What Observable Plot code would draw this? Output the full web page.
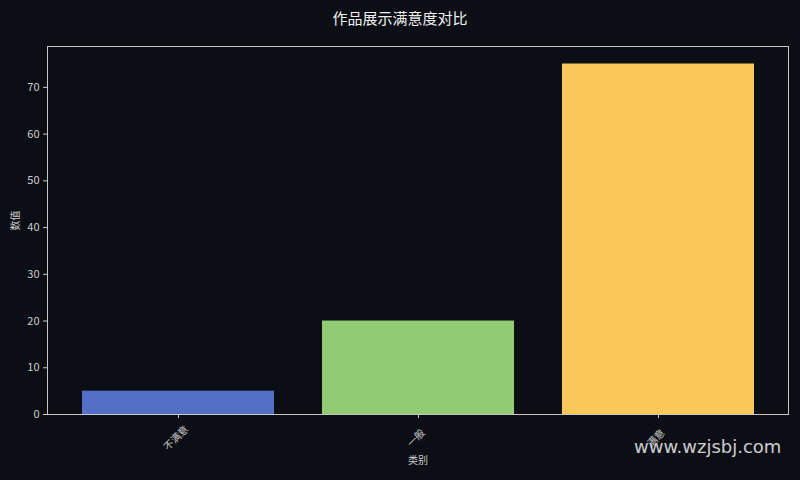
<!DOCTYPE html>
<html><head><meta charset="utf-8">
<script src="https://cdn.jsdelivr.net/npm/d3@7"></script>
<script src="https://cdn.jsdelivr.net/npm/@observablehq/plot@0.6"></script>
<style>
html,body{margin:0;padding:0;background:#0b0e14;}
#wrap{position:relative;width:800px;height:480px;background:#0b0e14;font-family:"Noto Sans CJK SC","DejaVu Sans",sans-serif;}
#title{position:absolute;top:7px;left:0;width:800px;text-align:center;color:#f0f0f0;font-size:15px;}
#wm{position:absolute;left:634px;top:436px;color:#e0e0e0;font-size:18px;font-family:"DejaVu Sans",sans-serif;opacity:0.9;}
#chart{position:absolute;top:0;left:0;}
</style></head>
<body><div id="wrap"><div id="title">作品展示满意度对比</div><div id="chart"></div><div id="wm">www.wzjsbj.com</div></div>
<script>
const categories = ["不满意", "一般", "满意"];
const values = [5, 20, 75];
const colors = ["#5470c6", "#91cc75", "#fac858"];
const yTicks = [0, 10, 20, 30, 40, 50, 60, 70];

const data = categories.map((c, i) => ({category: c, value: values[i], color: colors[i]}));

const chart = Plot.plot({
  width: 800,
  height: 480,
  marginTop: 46,
  marginBottom: 66,
  marginLeft: 47,
  marginRight: 12,
  style: {background: "transparent", color: "#cccccc", fontFamily: "'Noto Sans CJK SC','DejaVu Sans',sans-serif", fontSize: "11px"},
  x: {domain: categories, paddingInner: 0.2, paddingOuter: 0.14, axis: null},
  y: {domain: [0, 78.75], axis: null},
  marks: [
    Plot.barY(data, {x: "category", y: "value", fill: "color"}),
    Plot.frame({stroke: "#c8c8c8", strokeWidth: 1}),
    Plot.axisY({ticks: yTicks, tickSize: 4, tickPadding: 4, label: null, stroke: "#c8c8c8", color: "#cccccc", fontSize: 11}),
    Plot.axisX({tickSize: 4, label: null, tickFormat: () => "", stroke: "#c8c8c8"}),
    Plot.text(categories, {x: d => d, frameAnchor: "bottom", dy: 26, rotate: -45, text: d => d, fill: "#cccccc", fontSize: 10, textAnchor: "middle"}),
    Plot.text(["类别"], {frameAnchor: "bottom", dy: 49, text: d => d, fill: "#cccccc", fontSize: 10}),
    Plot.text(["数值"], {frameAnchor: "left", dx: -32, rotate: -90, text: d => d, fill: "#cccccc", fontSize: 10})
  ]
});
document.getElementById("chart").appendChild(chart);
</script></body></html>
